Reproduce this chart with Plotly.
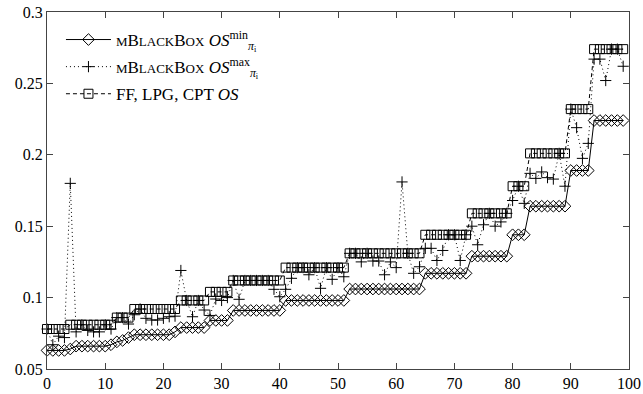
import plotly.graph_objects as go

x_vals = list(range(100))

os_min = [0.063, 0.063, 0.063, 0.063, 0.064, 0.066, 0.066, 0.066, 0.066, 0.066,
          0.066, 0.067, 0.069, 0.070, 0.072, 0.074, 0.074, 0.074, 0.074, 0.074,
          0.074, 0.074, 0.076, 0.079, 0.079, 0.079, 0.079, 0.079, 0.084, 0.084,
          0.084, 0.084, 0.091, 0.091, 0.091, 0.091, 0.091, 0.091, 0.091, 0.091,
          0.091, 0.098, 0.098, 0.098, 0.098, 0.098, 0.098, 0.098, 0.098, 0.098,
          0.098, 0.098, 0.106, 0.106, 0.106, 0.106, 0.106, 0.106, 0.106, 0.106,
          0.106, 0.106, 0.106, 0.106, 0.106, 0.117, 0.117, 0.117, 0.117, 0.117,
          0.117, 0.117, 0.117, 0.129, 0.129, 0.129, 0.129, 0.129, 0.129, 0.129,
          0.144, 0.144, 0.144, 0.164, 0.164, 0.164, 0.164, 0.164, 0.164, 0.164,
          0.189, 0.189, 0.189, 0.189, 0.224, 0.224, 0.224, 0.224, 0.224, 0.224]

os_max = [0.078, 0.067, 0.073, 0.072, 0.180, 0.076, 0.081, 0.077, 0.076, 0.076,
          0.081, 0.078, 0.086, 0.086, 0.0815, 0.088, 0.092, 0.0855, 0.0843, 0.0843,
          0.0855, 0.0866, 0.087, 0.119, 0.098, 0.0866, 0.098, 0.0913, 0.0875, 0.099,
          0.098, 0.100, 0.112, 0.0988, 0.112, 0.112, 0.112, 0.112, 0.112, 0.1058,
          0.1006, 0.1058, 0.1135, 0.121, 0.121, 0.116, 0.121, 0.1065, 0.121, 0.1128,
          0.121, 0.1146, 0.131, 0.131, 0.125, 0.131, 0.1256, 0.1256, 0.116, 0.125,
          0.121, 0.181, 0.131, 0.117, 0.1216, 0.1345, 0.1345, 0.126, 0.133, 0.144,
          0.144, 0.126, 0.144, 0.150, 0.137, 0.151, 0.159, 0.150, 0.153, 0.159,
          0.168, 0.178, 0.166, 0.187, 0.1835, 0.188, 0.184, 0.183, 0.201, 0.178,
          0.232, 0.219, 0.1975, 0.208, 0.267, 0.267, 0.252, 0.274, 0.274, 0.262]

os_ff = [0.078, 0.078, 0.078, 0.078, 0.081, 0.081, 0.081, 0.081, 0.081, 0.081,
         0.081, 0.081, 0.086, 0.086, 0.086, 0.092, 0.092, 0.092, 0.092, 0.092,
         0.092, 0.092, 0.092, 0.098, 0.098, 0.098, 0.098, 0.098, 0.104, 0.104,
         0.104, 0.104, 0.112, 0.112, 0.112, 0.112, 0.112, 0.112, 0.112, 0.112,
         0.112, 0.121, 0.121, 0.121, 0.121, 0.121, 0.121, 0.121, 0.121, 0.121,
         0.121, 0.121, 0.131, 0.131, 0.131, 0.131, 0.131, 0.131, 0.131, 0.131,
         0.131, 0.131, 0.131, 0.131, 0.131, 0.144, 0.144, 0.144, 0.144, 0.144,
         0.144, 0.144, 0.144, 0.159, 0.159, 0.159, 0.159, 0.159, 0.159, 0.159,
         0.178, 0.178, 0.178, 0.201, 0.201, 0.201, 0.201, 0.201, 0.201, 0.201,
         0.232, 0.232, 0.232, 0.232, 0.274, 0.274, 0.274, 0.274, 0.274, 0.274]

x_ticks = [0, 10, 20, 30, 40, 50, 60, 70, 80, 90, 100]
x_tick_labels = ["0", "10", "20", "30", "40", "50", "60", "70", "80", "90", "100"]
y_ticks = [0.05, 0.1, 0.15, 0.2, 0.25, 0.3]
y_tick_labels = ["0.05", "0.1", "0.15", "0.2", "0.25", "0.3"]

SC = "<span style='font-size:13px'>{}</span>"
mbb = SC.format("M") + "B" + SC.format("LACK") + "B" + SC.format("OX")
name_min = mbb + " <i>OS</i><sup>min</sup><sub><i>π</i><sub>i</sub></sub>"
name_max = mbb + " <i>OS</i><sup>max</sup><sub><i>π</i><sub>i</sub></sub>"
name_ff = "FF, LPG, CPT <i>OS</i>"

FONT = "Liberation Serif"
TICKFONT = dict(family=FONT, size=16, color="black")

fig = go.Figure()
fig.add_trace(go.Scatter(
    x=x_vals, y=os_min, name=name_min, legendgroup="a", mode="lines+markers",
    line=dict(color="black", width=1),
    marker=dict(symbol="diamond-open", size=9, color="black", line=dict(width=1)),
    cliponaxis=False))
fig.add_trace(go.Scatter(
    x=x_vals, y=os_max, name=name_max, legendgroup="b", mode="lines+markers",
    line=dict(color="black", width=1, dash="1px,3px"),
    marker=dict(symbol="cross-thin-open", size=8, color="black", line=dict(width=1, color="black")),
    cliponaxis=False))
fig.add_trace(go.Scatter(
    x=x_vals, y=os_ff, name=name_ff, legendgroup="c", mode="lines+markers",
    line=dict(color="black", width=1, dash="4px,3px"),
    marker=dict(symbol="square-open", size=9, color="black", line=dict(width=1)),
    cliponaxis=False))

fig.update_layout(
    width=643, height=394,
    margin=dict(l=47, r=14, t=12, b=25, autoexpand=False),
    plot_bgcolor="white", paper_bgcolor="white",
    font=dict(family=FONT, size=17, color="black"),
    showlegend=True,
    legend=dict(x=0.024, y=0.972, xanchor="left", yanchor="top",
                bgcolor="rgba(0,0,0,0)", borderwidth=0, tracegroupgap=2,
                itemwidth=45,
                font=dict(family=FONT, size=17, color="black")),
    xaxis=dict(range=[0, 100], tickmode="array", tickvals=x_ticks, ticktext=x_tick_labels,
               showgrid=False, zeroline=False, showline=True, linecolor="#444", linewidth=1,
               mirror="ticks", ticks="inside", ticklen=6, tickcolor="#444",
               automargin=False, tickfont=TICKFONT),
    yaxis=dict(range=[0.05, 0.3], tickmode="array", tickvals=y_ticks, ticktext=y_tick_labels,
               showgrid=False, zeroline=False, showline=True, linecolor="#444", linewidth=1,
               mirror="ticks", ticks="inside", ticklen=6, tickcolor="#444",
               automargin=False, tickfont=TICKFONT),
)

# Remove the browser's default 8px page margin so the figure fills the window exactly.
fig.write_html("out.html",
               config={"displayModeBar": False},
               post_script="document.body.style.margin='0px';document.body.style.padding='0px';")
